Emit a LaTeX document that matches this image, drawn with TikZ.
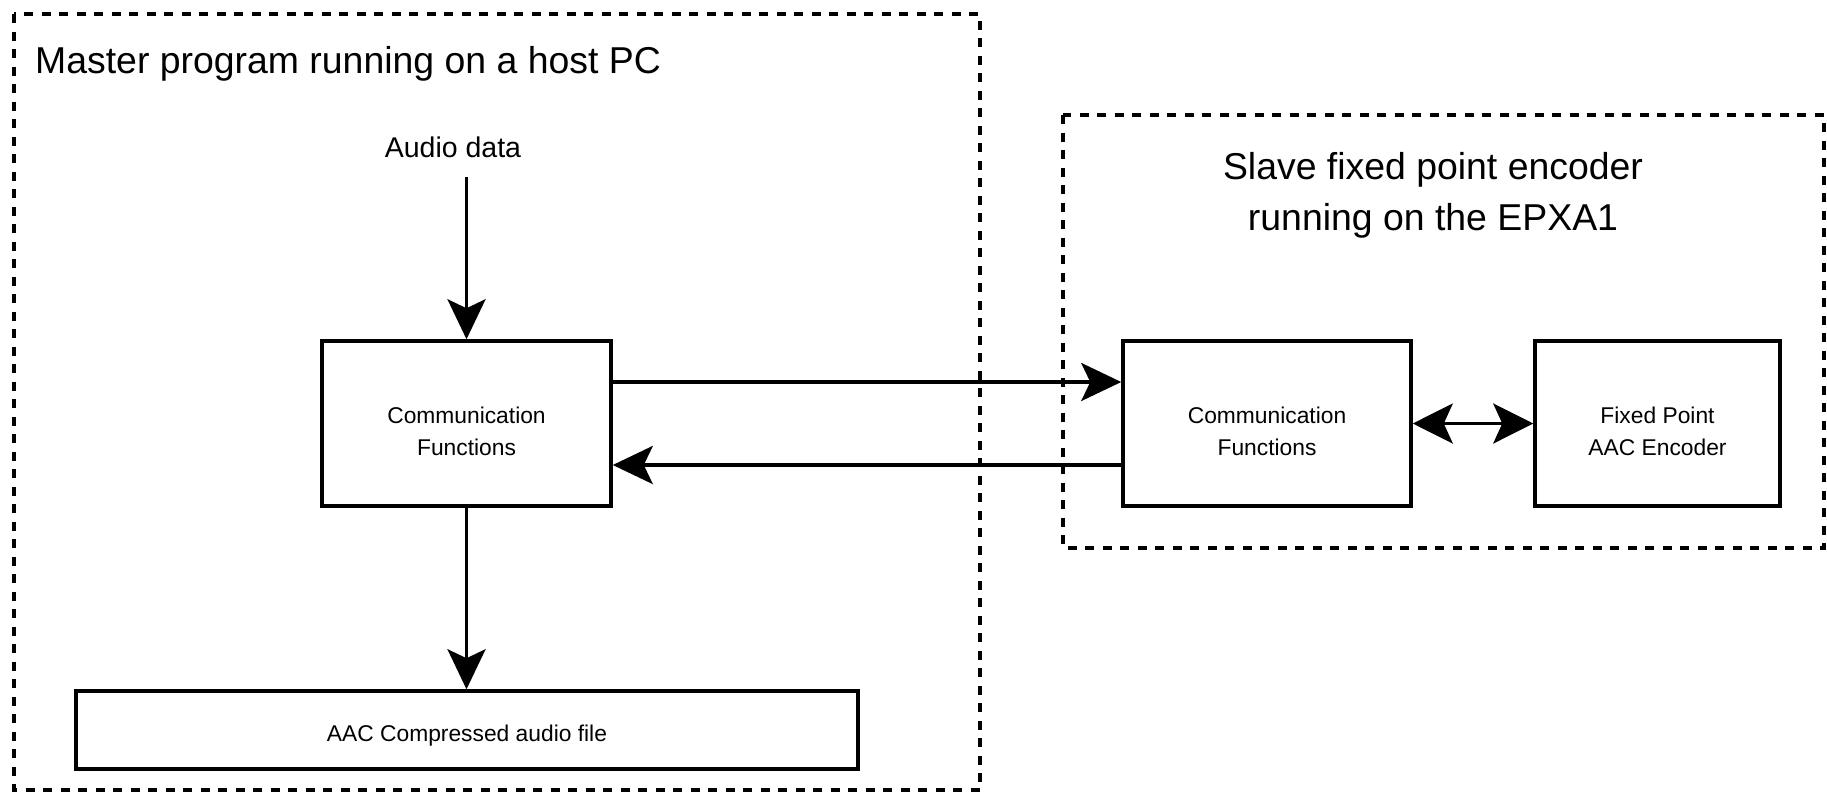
\documentclass[tikz,border=0pt]{standalone}
\usepackage{fontspec}
\setmainfont{Liberation Sans}
\usetikzlibrary{arrows.meta}
\begin{document}
\begin{tikzpicture}[x=1pt,y=-1pt,
  boxtext/.style={font=\fontsize{22.8}{32.6}\selectfont,align=center},
  blk/.style={draw,line width=3.5pt,minimum height=165pt,inner sep=0pt},
  dashbox/.style={draw,line width=3.5pt,dash pattern=on 9pt off 8.5pt},
  arr/.style={line width=3.5pt,-{Stealth[length=40pt,width=38pt,inset=9pt]}},
  dblarr/.style={line width=3.5pt,{Stealth[length=40pt,width=40pt,inset=9pt]}-{Stealth[length=40pt,width=40pt,inset=9pt]}},
  title/.style={font=\fontsize{37.4}{51}\selectfont,inner sep=0pt}
]
\useasboundingbox (0,0) rectangle (1827,793);

% dashed containers
\draw[dashbox] (14,14) rectangle (980,790);
\draw[dashbox] (1063,115) rectangle (1824,548);

% titles
\node[title,anchor=base west] (mtitle) at (35,73) {Master program running on a host PC};
\node[title,anchor=base,align=center] (stitle) at (1433,230) {Slave fixed point encoder\\running on the EPXA1};

\node[font=\fontsize{28.5}{34}\selectfont,inner sep=0pt,anchor=base] (audio) at (453,157) {Audio data};

% blocks
\node[blk,minimum width=289pt,label={[boxtext,yshift=-8pt]center:Communication\\Functions}] (cf1) at (466.5,423.5) {};
\node[blk,minimum width=288pt,label={[boxtext,yshift=-8pt]center:Communication\\Functions}] (cf2) at (1267,423.5) {};
\node[blk,minimum width=245pt,label={[boxtext,yshift=-8pt]center:Fixed Point\\AAC Encoder}] (fp) at (1657.5,423.5) {};
\node[blk,minimum width=782pt,minimum height=78pt,label={[boxtext,yshift=-6pt]center:AAC Compressed audio file}] (aac) at (467,730) {};

% connectors
\coordinate (ain) at (466.5,177);
\draw[arr] (ain) -- (cf1.north);
\draw[arr] ([yshift=41.5pt]cf1.east) -- ([yshift=41.5pt]cf2.west);
\draw[arr] ([yshift=-41.5pt]cf2.west) -- ([yshift=-41.5pt]cf1.east);
\draw[dblarr] (cf2.east) -- (fp.west);
\draw[arr] (cf1.south) -- (cf1.south |- aac.north);
\end{tikzpicture}
\end{document}
